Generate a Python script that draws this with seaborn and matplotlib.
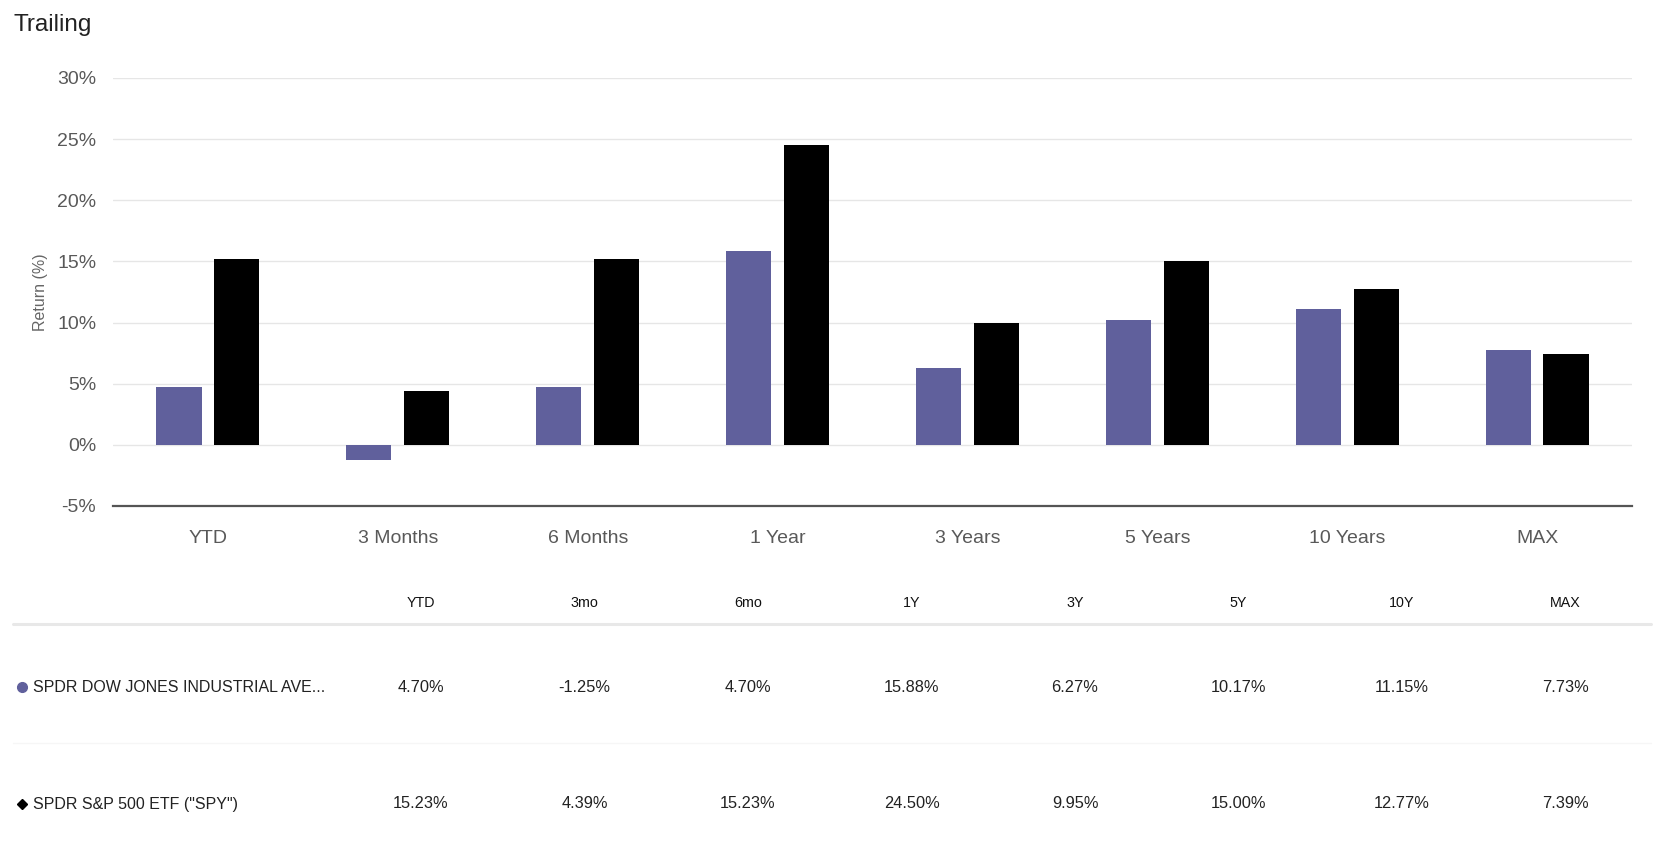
import matplotlib
matplotlib.use('Agg')
import pandas as pd
import matplotlib.pyplot as plt
import seaborn as sns
from matplotlib import font_manager

periods = ['YTD', '3 Months', '6 Months', '1 Year', '3 Years', '5 Years', '10 Years', 'MAX']
short_periods = ['YTD', '3mo', '6mo', '1Y', '3Y', '5Y', '10Y', 'MAX']
dia_returns = [4.70, -1.25, 4.70, 15.88, 6.27, 10.17, 11.15, 7.73]
spy_returns = [15.23, 4.39, 15.23, 24.50, 9.95, 15.00, 12.77, 7.39]
fund_names = ['SPDR DOW JONES INDUSTRIAL AVE...', 'SPDR S&P 500 ETF ("SPY")']
fund_colors = ['#60609c', '#000000']
fund_markers = ['o', 'D']
y_ticks = [-5, 0, 5, 10, 15, 20, 25, 30]

df = pd.DataFrame({
    'Period': periods * 2,
    'Fund': [fund_names[0]] * len(periods) + [fund_names[1]] * len(periods),
    'Return': dia_returns + spy_returns,
})

sns.set_style('white')
plt.rcParams['font.family'] = ['Liberation Sans', 'DejaVu Sans']

# narrow font for the table if we have it
installed = {f.name for f in font_manager.fontManager.ttflist}
if 'Liberation Sans Narrow' in installed:
    table_font = ['Liberation Sans Narrow', 'DejaVu Sans']
    val_size, name_size, head_size = 13.5, 13.5, 11.5
else:
    table_font = ['Liberation Sans', 'DejaVu Sans']
    val_size, name_size, head_size = 11.8, 11.5, 10.3

W, H = 1660, 851
fig = plt.figure(figsize=(W / 100, H / 100), dpi=100)

# background axes in pixel coordinates for title + table
ax_t = fig.add_axes([0, 0, 1, 1], zorder=0)
ax_t.set_xlim(0, W)
ax_t.set_ylim(H, 0)
ax_t.axis('off')

ax = fig.add_axes([113 / W, 1 - 506 / H, (1632 - 113) / W, (506 - 78) / H], zorder=1)
ax.patch.set_alpha(0)

sns.barplot(data=df, x='Period', y='Return', hue='Fund', order=periods,
            hue_order=fund_names, palette=fund_colors, saturation=1,
            width=0.61, gap=0.22, linewidth=0, errorbar=None, legend=False, ax=ax)

ax.set_xlim(-0.5, len(periods) - 0.5)
ax.set_ylim(-5, 30)
ax.set_yticks(y_ticks)
ax.set_yticklabels([f'{t}%' for t in y_ticks])
ax.tick_params(axis='y', length=0, pad=12, labelsize=14, labelcolor='#595959')
ax.tick_params(axis='x', length=0, pad=17, labelsize=14, labelcolor='#595959')
ax.set_xlabel('')
ax.set_ylabel('Return (%)', fontsize=11.5, color='#666666')
ax.yaxis.set_label_coords(-0.043, 0.5)
ax.grid(axis='y', color='#e6e6e6', linewidth=1)
ax.set_axisbelow(True)
for s in ['top', 'right', 'left']:
    ax.spines[s].set_visible(False)
ax.spines['bottom'].set_color('#555555')
ax.spines['bottom'].set_linewidth(1.6)

# title
ax_t.text(13, 25, 'Trailing', fontsize=17.5, color='#222222', va='center', ha='left')

# table below the chart
col_x0, col_step = 421, 163.5
header_y, sep_y, row_sep_y = 603, 624, 743
row_y = [687, 804]

for i, p in enumerate(short_periods):
    ax_t.text(col_x0 + i * col_step, header_y, p, family=table_font, fontsize=head_size,
              color='#111111', ha='center', va='center')
ax_t.plot([13, 1651], [sep_y, sep_y], color='#e8e8e8', linewidth=2.2)
ax_t.plot([13, 1651], [row_sep_y, row_sep_y], color='#f6f6f6', linewidth=1)

for r, (name, vals) in enumerate(zip(fund_names, [dia_returns, spy_returns])):
    y = row_y[r]
    ax_t.plot([22], [y], marker=fund_markers[r], color=fund_colors[r],
              markersize=7 if r == 0 else 5, linestyle='none')
    ax_t.text(33, y, name, family=table_font, fontsize=name_size, color='#222222',
              ha='left', va='center')
    for i, v in enumerate(vals):
        ax_t.text(col_x0 + i * col_step, y, f'{v:.2f}%', family=table_font,
                  fontsize=val_size, color='#222222', ha='center', va='center')

plt.savefig('out.png', dpi=100)
